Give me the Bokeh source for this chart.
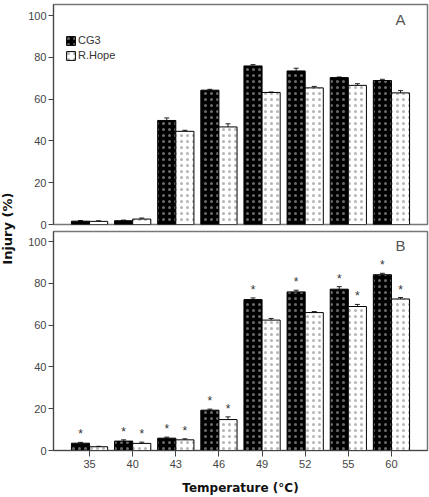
import math
from bokeh.plotting import figure
from bokeh.models import (ColumnDataSource, FactorRange, Range1d, Whisker, TeeHead,
                          Legend, LegendItem, Label, FixedTicker)
from bokeh.transform import dodge
from bokeh.layouts import row, column
from bokeh.core.properties import value
from bokeh.embed import file_html
from bokeh.resources import INLINE

# ---------------- data ----------------
temps = ["35", "40", "43", "46", "49", "52", "55", "60"]

a_cg3 = [1.6, 1.8, 49.8, 64.3, 75.9, 73.5, 70.3, 68.9]
a_cg3_err = [0.3, 0.3, 1.2, 0.4, 0.6, 1.3, 0.3, 0.6]
a_rh = [1.5, 2.6, 44.6, 46.7, 63.2, 65.4, 66.6, 63.0]
a_rh_err = [0.3, 0.5, 0.5, 1.5, 0.2, 0.7, 0.8, 1.1]

b_cg3 = [3.5, 4.5, 5.9, 19.3, 72.2, 75.9, 77.2, 84.1]
b_cg3_err = [0.4, 0.6, 0.5, 0.5, 0.8, 0.8, 1.2, 0.7]
b_rh = [1.8, 3.4, 5.1, 14.8, 62.4, 66.0, 68.9, 72.5]
b_rh_err = [0.2, 0.6, 0.5, 1.3, 0.8, 0.5, 1.0, 0.7]

b_sig_cg3 = [True, True, True, True, True, True, True, True]
b_sig_rh = [False, True, True, True, False, False, True, True]

series_names = ["CG3", "R.Hope"]

# ---------------- style ----------------
BAR_W = 0.42
OFF = 0.21
TICK_FONT = "Liberation Sans"
AX_COL = "#444444"


def make_panel(cg3, cg3_err, rh, rh_err, letter, height, top_b, bot_b, ytop,
               show_x, sig_cg3=None, sig_rh=None, legend=False):
    p = figure(x_range=FactorRange(*temps, range_padding=0.084),
               y_range=Range1d(0, ytop),
               width=407, height=height, output_backend="svg",
               toolbar_location=None,
               min_border_left=31, min_border_right=2,
               min_border_top=top_b, min_border_bottom=bot_b)
    p.background_fill_color = "white"
    p.border_fill_color = "white"
    p.outline_line_color = "#777777"
    p.outline_line_width = 1.5
    p.xgrid.visible = False
    p.ygrid.visible = False

    src = ColumnDataSource(dict(
        temp=temps,
        cg3=cg3, cg3_lo=[v - e for v, e in zip(cg3, cg3_err)],
        cg3_hi=[v + e for v, e in zip(cg3, cg3_err)],
        rh=rh, rh_lo=[v - e for v, e in zip(rh, rh_err)],
        rh_hi=[v + e for v, e in zip(rh, rh_err)],
    ))

    r1 = p.vbar(x=dodge("temp", -OFF, range=p.x_range), top="cg3", width=BAR_W,
                source=src, fill_color="black", line_color="black", line_width=1,
                hatch_pattern="dot", hatch_color="#6a6a6a", hatch_scale=6,
                hatch_weight=1)
    r2 = p.vbar(x=dodge("temp", OFF, range=p.x_range), top="rh", width=BAR_W,
                source=src, fill_color="white", line_color="black", line_width=1,
                hatch_pattern="dot", hatch_color="#b5b5b5", hatch_scale=6,
                hatch_weight=1)

    for key, off in (("cg3", -OFF), ("rh", OFF)):
        w = Whisker(base=dodge("temp", off, range=p.x_range),
                    lower=key + "_lo", upper=key + "_hi", source=src,
                    line_color="#222222", line_width=1,
                    upper_head=TeeHead(size=5, line_color="#222222", line_width=1),
                    lower_head=TeeHead(size=5, line_color="#222222", line_width=1))
        p.add_layout(w)

    if sig_cg3 is not None:
        for vals, errs, sig, off in ((cg3, cg3_err, sig_cg3, -OFF),
                                     (rh, rh_err, sig_rh, OFF)):
            s = ColumnDataSource(dict(
                temp=[t for t, k in zip(temps, sig) if k],
                y=[v + e for v, e, k in zip(vals, errs, sig) if k]))
            p.text(x=dodge("temp", off, range=p.x_range), y="y", text=value("*"),
                   source=s, text_align="center", text_baseline="middle",
                   y_offset=-8, text_font_size="12px",
                   text_font=value(TICK_FONT), text_color="#333333")

    # y axis
    p.yaxis.ticker = FixedTicker(ticks=[0, 20, 40, 60, 80, 100])
    p.yaxis.axis_line_color = AX_COL
    p.yaxis.major_tick_line_color = AX_COL
    p.yaxis.major_tick_out = 5
    p.yaxis.major_tick_in = 0
    p.yaxis.minor_tick_line_color = None
    p.yaxis.major_label_text_font = TICK_FONT
    p.yaxis.major_label_text_font_size = "11px"
    p.yaxis.major_label_text_color = "#444444"
    p.yaxis.major_label_standoff = 2

    if show_x:
        p.xaxis.axis_line_color = AX_COL
        p.xaxis.major_tick_line_color = AX_COL
        p.xaxis.major_tick_out = 6
        p.xaxis.major_tick_in = 0
        p.xaxis.major_label_text_font = TICK_FONT
        p.xaxis.major_label_text_font_size = "11px"
        p.xaxis.major_label_text_color = "#444444"
        p.xaxis.major_label_standoff = 3
        p.xaxis.axis_label = "Temperature (°C)"
        p.xaxis.axis_label_text_font = "DejaVu Sans"
        p.xaxis.axis_label_text_font_style = "bold"
        p.xaxis.axis_label_text_font_size = "12px"
        p.xaxis.axis_label_text_color = "#111111"
        p.xaxis.axis_label_standoff = 10
    else:
        p.xaxis.visible = False

    p.add_layout(Label(x=347, y=205, x_units="screen", y_units="screen",
                       text=letter, text_align="center", text_baseline="middle",
                       text_font=TICK_FONT, text_font_size="15px",
                       text_color="#555555"))

    if legend:
        lg = Legend(items=[LegendItem(label=series_names[0], renderers=[r1]),
                           LegendItem(label=series_names[1], renderers=[r2])],
                    location=(12, 163), orientation="vertical",
                    glyph_width=11, glyph_height=11, label_height=11,
                    label_text_font=TICK_FONT, label_text_font_size="11px",
                    label_text_color="#333333", label_standoff=2,
                    spacing=3, padding=0, margin=0,
                    border_line_color=None, background_fill_alpha=0)
        p.add_layout(lg, "center")
    return p


pA = make_panel(a_cg3, a_cg3_err, a_rh, a_rh_err, "A", 229, 4, 5, 105.3,
                False, legend=True)
pB = make_panel(b_cg3, b_cg3_err, b_rh, b_rh_err, "B", 268, 2, 47, 104.8,
                True, sig_cg3=b_sig_cg3, sig_rh=b_sig_rh)

# shared y-axis title
pL = figure(width=22, height=497, x_range=Range1d(0, 1), y_range=Range1d(0, 1),
            output_backend="svg", toolbar_location=None, min_border=0)
pL.axis.visible = False
pL.grid.visible = False
pL.outline_line_color = None
pL.add_layout(Label(x=0.3, y=0.541, text="Injury (%)", angle=math.pi / 2,
                    text_align="center", text_baseline="middle",
                    text_font="DejaVu Sans", text_font_style="bold",
                    text_font_size="13px", text_color="#111111"))

layout = row(pL, column(pA, pB, spacing=0), spacing=0)

open("out.html", "w").write(file_html(layout, INLINE))
